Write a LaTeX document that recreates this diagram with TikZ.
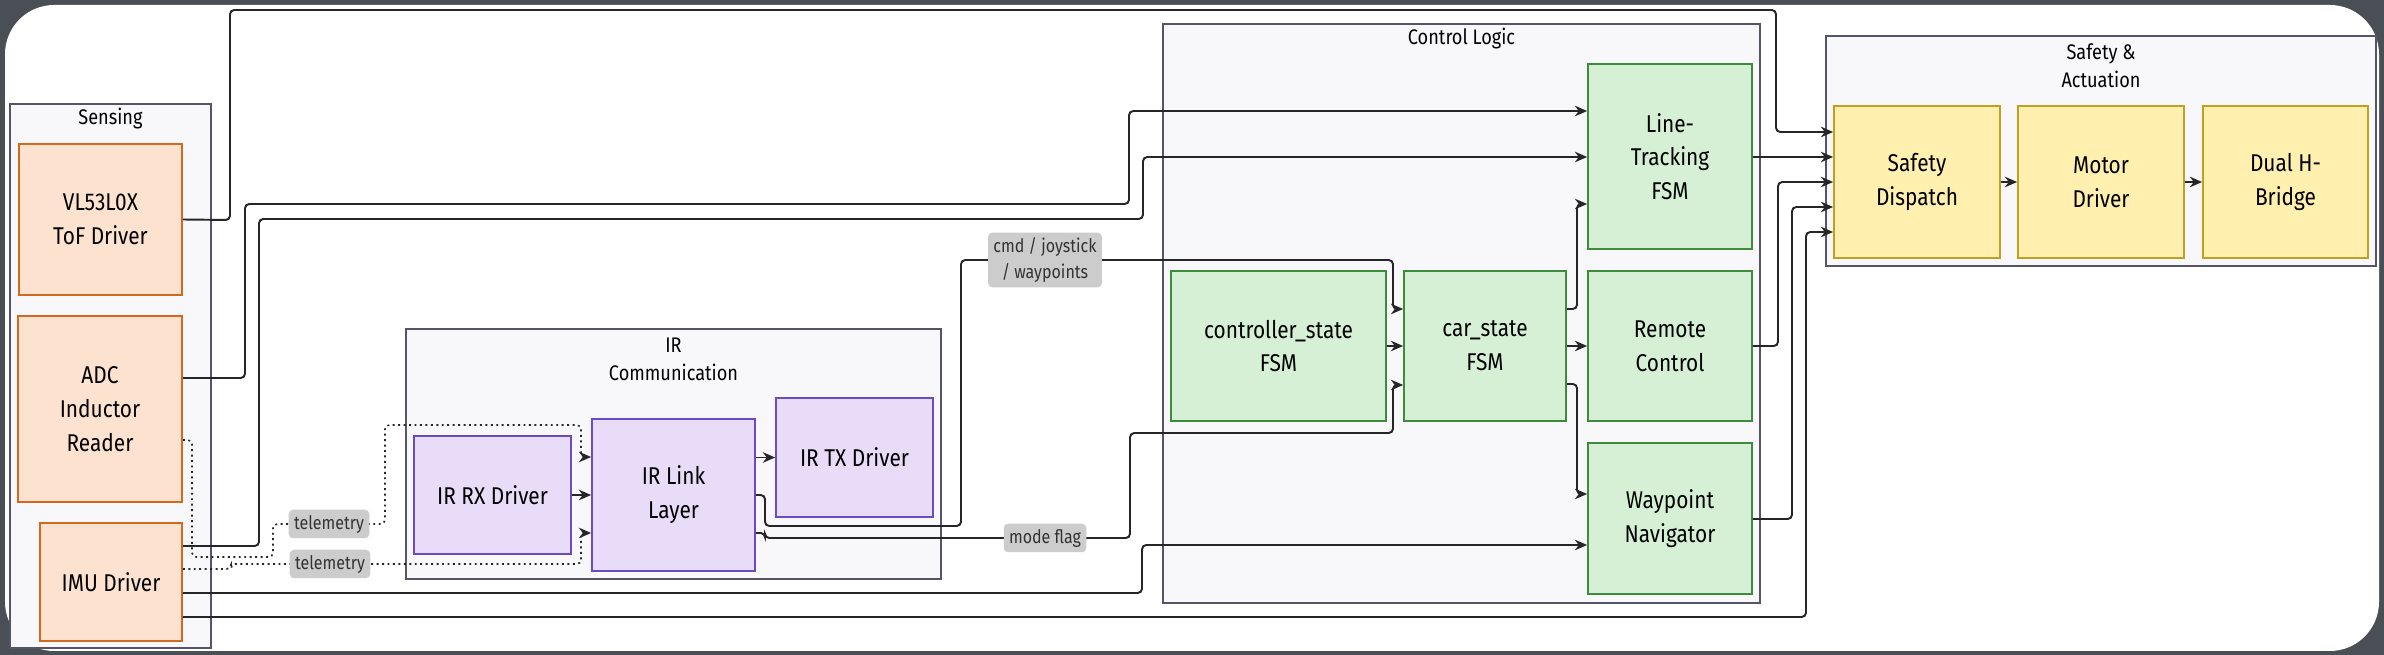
\documentclass[tikz,border=0pt]{standalone}
\usepackage{fontspec}
\setmainfont{Fira Sans}[FakeStretch=0.86]
\usepackage{tikz}
\usetikzlibrary{arrows.meta}

\definecolor{frame}{HTML}{4A4F55}
\definecolor{clfill}{HTML}{F8F8FA}
\definecolor{cldraw}{HTML}{55556A}
\definecolor{sensfill}{HTML}{FDE3CF}
\definecolor{sensdraw}{HTML}{D2691E}
\definecolor{irfill}{HTML}{E8DCF8}
\definecolor{irdraw}{HTML}{6A4BC4}
\definecolor{ctlfill}{HTML}{D6F0D6}
\definecolor{ctldraw}{HTML}{3C8C3C}
\definecolor{actfill}{HTML}{FFF0B0}
\definecolor{actdraw}{HTML}{C0A020}

\tikzset{
  sz/.style 2 args={minimum width=#1*0.01cm, minimum height=#2*0.01cm},
  box/.style={draw, line width=0.5pt, align=center, inner sep=1pt,
    font=\fontsize{6.9}{9.6}\selectfont},
  sens/.style={box, fill=sensfill, draw=sensdraw},
  irb/.style={box, fill=irfill, draw=irdraw},
  ctl/.style={box, fill=ctlfill, draw=ctldraw},
  act/.style={box, fill=actfill, draw=actdraw},
  cluster/.style={draw=cldraw, fill=clfill, line width=0.5pt},
  title/.style={align=center, font=\fontsize{6}{8}\selectfont},
  lbl/.style={fill=black!20, inner sep=1.5pt, align=center,
    font=\fontsize{5.3}{7.2}\selectfont, text=black!80},
  wire/.style={draw=black!85, line width=0.55pt, rounded corners=1.2pt,
    -{Stealth[length=3.5pt,width=3pt]}},
  dwire/.style={wire, densely dotted, line width=0.45pt}
}

\begin{document}
\begin{tikzpicture}[x=0.01cm, y=-0.01cm]
    \useasboundingbox (0,0) rectangle (2384,655);
    \fill[frame] (0,0) rectangle (2384,655);
    \fill[white, rounded corners=14pt] (5,5) rectangle (2379,651);

    % clusters
    \draw[cluster] (10,104) rectangle (211,648);
    \node[title] (tsens) at (110.5,119) {Sensing};
    \draw[cluster] (406,329) rectangle (941,579);
    \node[title] (tir) at (673.5,359) {IR\\Communication};
    \draw[cluster] (1163,24) rectangle (1760,603);
    \node[title] (tctl) at (1461.5,39) {Control Logic};
    \draw[cluster] (1826,36) rectangle (2376,266);
    \node[title] (tact) at (2101,66) {Safety \&\\Actuation};

    % sensing
    \node[sens, sz={163}{151}] (tof) at (100.5,219.5) {VL53L0X\\ToF Driver};
    \node[sens, sz={164}{186}] (adc) at (100,409) {ADC\\Inductor\\Reader};
    \node[sens, sz={142}{118}] (imu) at (111,582) {IMU Driver};

    % IR communication
    \node[irb, sz={157}{118}] (rx) at (492.5,495) {IR RX Driver};
    \node[irb, sz={163}{152}] (link) at (673.5,495) {IR Link\\Layer};
    \node[irb, sz={157}{119}] (tx) at (854.5,457.5) {IR TX Driver};

    % control logic
    \node[ctl, sz={164}{185}] (lt) at (1670,156.5) {Line-\\Tracking\\FSM};
    \node[ctl, sz={215}{150}] (ctrl) at (1278.5,346) {controller\_state\\FSM};
    \node[ctl, sz={162}{150}] (cs) at (1485,346) {car\_state\\FSM};
    \node[ctl, sz={164}{150}] (rc) at (1670,346) {Remote\\Control};
    \node[ctl, sz={164}{151}] (wp) at (1670,518.5) {Waypoint\\Navigator};

    % safety & actuation
    \node[act, sz={166}{152}] (sd) at (1917,182) {Safety\\Dispatch};
    \node[act, sz={166}{152}] (md) at (2101,182) {Motor\\Driver};
    \node[act, sz={165}{152}] (hb) at (2285.5,182) {Dual H-\\Bridge};

    % sensor wires
    \draw[wire] (tof.east) -- (230,220) -- (230,10) -- (1776,10) -- (1776,132) -- (sd.west |- 0,132);
    \draw[wire] (adc.east |- 0,378) -- (245,378) -- (245,204) -- (1129,204) -- (1129,111) -- (lt.west |- 0,111);
    \draw[wire] (imu.east |- 0,546) -- (259,546) -- (259,219) -- (1143,219) -- (1143,157) -- (lt.west |- 0,157);
    \draw[wire] (imu.east |- 0,593) -- (1142,593) -- (1142,545) -- (wp.west |- 0,545);
    \draw[wire] (imu.east |- 0,617) -- (1806,617) -- (1806,232) -- (sd.west |- 0,232);

    % telemetry
    \draw[dwire] (adc.east |- 0,440) -- (192,440) -- (192,557) -- (273,557) -- (273,524)
        -- node[lbl] (tel1) {telemetry} (385,524) -- (385,425) -- (581,425) -- (581,457) -- (link.west |- 0,457);
    \draw[dwire] (imu.east |- 0,569) -- (231,569) -- (231,564)
        -- node[lbl, pos=0.5] (tel2) {telemetry} (429,564) -- (581,564) -- (581,533) -- (link.west |- 0,533);

    % IR internals
    \draw[wire] (rx.east) -- (link.west);
    \draw[wire] (link.east |- tx.west) -- (tx.west);
    \draw[wire] (link.east |- 0,495) -- (765,495) -- (765,526) -- (961,526) -- (961,260)
        -- node[lbl] (cmd) {cmd / joystick\\/ waypoints} (1129,260) -- (1393,260) -- (1393,309) -- (cs.west |- 0,309);
    \draw[wire] (link.east |- 0,533) -- (765,533) -- (765,538) -- (960,538)
        -- node[lbl] (mode) {mode flag} (1130,538) -- (1130,433) -- (1393,433) -- (1393,385) -- (cs.west |- 0,385);

    % control logic
    \draw[wire] (ctrl.east) -- (cs.west);
    \draw[wire] (cs.east) -- (rc.west);
    \draw[wire] (cs.east |- 0,309) -- (1577,309) -- (1577,204) -- (lt.west |- 0,204);
    \draw[wire] (cs.east |- 0,384) -- (1577,384) -- (1577,494) -- (wp.west |- 0,494);
    \draw[wire] (lt.east |- 0,157) -- (sd.west |- 0,157);
    \draw[wire] (rc.east) -- (1778,346) -- (1778,182) -- (sd.west |- 0,182);
    \draw[wire] (wp.east |- 0,519) -- (1792,519) -- (1792,207) -- (sd.west |- 0,207);

    % actuation
    \draw[wire] (sd.east) -- (md.west);
    \draw[wire] (md.east) -- (hb.west);
\end{tikzpicture}
\end{document}
